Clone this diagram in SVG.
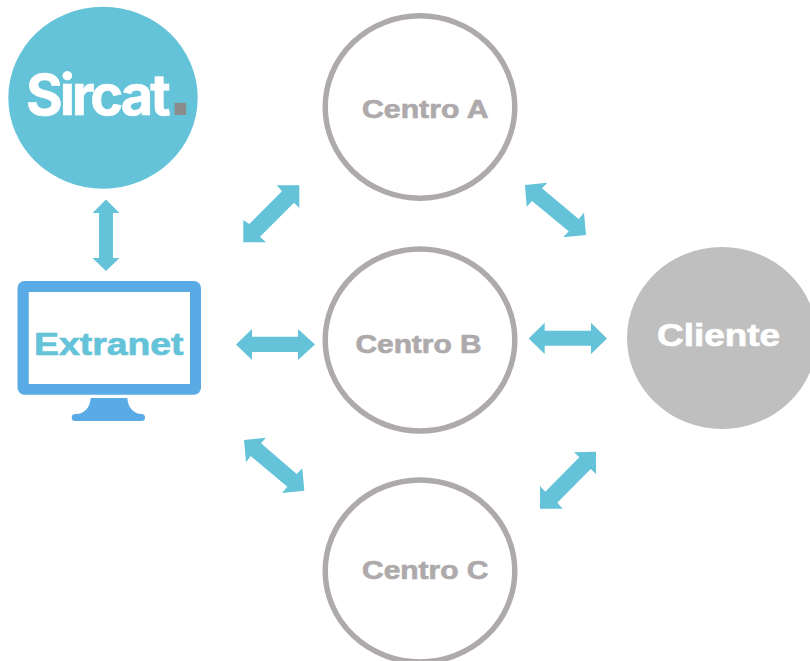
<svg xmlns="http://www.w3.org/2000/svg" width="810" height="661" viewBox="0 0 810 661">
<style>
.centro{fill:#fff;stroke:#aeaaab;stroke-width:5.500}
.lbl{font-family:"Liberation Sans",Arial,sans-serif;font-weight:700;font-size:26px;fill:#aeaaab;stroke:#aeaaab;stroke-width:.7}
.big{font-family:"Liberation Sans",Arial,sans-serif;font-weight:700;font-size:32px;stroke-width:.7}
.arrow{fill:#64c3d8}
</style>
<rect width="810" height="661" fill="#fff"/>
<g id="connectors">
<polygon class="arrow" points="106,199.500 119.500,213 113,213 113,258 119.500,258 106,271 92.500,258 99,258 99,213 92.500,213"/>
<polygon class="arrow" points="299.300,185.300 276.700,185.300 282,191.300 249.300,224 243.300,220 243.300,242.300 266,242.300 260,236.700 294,202.700 299.300,208"/>
<polygon class="arrow" points="236,344.500 252,329 252,336.700 298,336.700 298,329 315,344.500 298,360 298,352 252,352 252,360"/>
<polygon class="arrow" points="244,440 266,437.700 261,443.300 296.700,474 302.300,468.300 304.300,490.700 282,493 287.300,486.700 250.700,456 246,462.300"/>
<polygon class="arrow" points="525,185 547.300,182.700 542,188.300 578.700,219 584,212.700 586,235 563.300,237.300 568.700,231.300 532,201 526.700,206.700"/>
<polygon class="arrow" points="528.700,338.500 544.700,322.700 544.700,330.700 591,330.700 591,322.700 607,338.500 591,354 591,345.700 544.700,345.700 544.700,354"/>
<polygon class="arrow" points="596,451.700 574,452.300 579.300,457.300 545.300,491.700 540,486 540,508.700 562.700,508.700 557.300,502.700 590.700,469 596,474"/>
</g>
<g id="sircat">
<ellipse cx="103" cy="97.700" rx="94.700" ry="91" fill="#64c3d8"/>
<text x="26" y="115" font-family="Inter,sans-serif" font-weight="700" font-size="56" letter-spacing="-3" fill="#fff" stroke="#fff" stroke-width=".6">Sircat<tspan x="169" y="115" font-family="Liberation Sans,sans-serif" font-size="82" letter-spacing="0" fill="#8c8c8c" stroke="none">.</tspan></text>
</g>
<g id="extranet">
<path fill="#58abe4" fill-rule="evenodd" d="M24.500 281H194a7 7 0 0 1 7 7V387.700a7 7 0 0 1-7 7H24.500a7 7 0 0 1-7-7V288a7 7 0 0 1 7-7ZM28.700 292V384H190V292Z"/>
<path fill="#58abe4" d="M90.700 398H127.300C128 408 134 414 142 414H141.500a3.500 3.500 0 0 1 0 7H75.200a3.500 3.500 0 0 1 0-7H76C84 414 90 408 90.700 398Z"/>
<text class="big" x="34" y="355" fill="#64c3d8" stroke="#64c3d8" textLength="149.500" lengthAdjust="spacingAndGlyphs">Extranet</text>
</g>
<g id="centro-a">
<ellipse class="centro" cx="420" cy="107" rx="94.800" ry="91.200"/>
<text class="lbl" x="362" y="117.500" textLength="126.500" lengthAdjust="spacingAndGlyphs">Centro A</text>
</g>
<g id="centro-b">
<ellipse class="centro" cx="420" cy="340" rx="94.800" ry="91"/>
<text class="lbl" x="355.500" y="353" textLength="126" lengthAdjust="spacingAndGlyphs">Centro B</text>
</g>
<g id="centro-c">
<ellipse class="centro" cx="420" cy="571" rx="94.800" ry="91"/>
<text class="lbl" x="362" y="579" textLength="126.500" lengthAdjust="spacingAndGlyphs">Centro C</text>
</g>
<g id="cliente">
<ellipse cx="722" cy="338" rx="95" ry="91" fill="#bfbfbf"/>
<text class="big" x="657" y="346" fill="#fff" stroke="#fff" textLength="123" lengthAdjust="spacingAndGlyphs">Cliente</text>
</g>
</svg>
